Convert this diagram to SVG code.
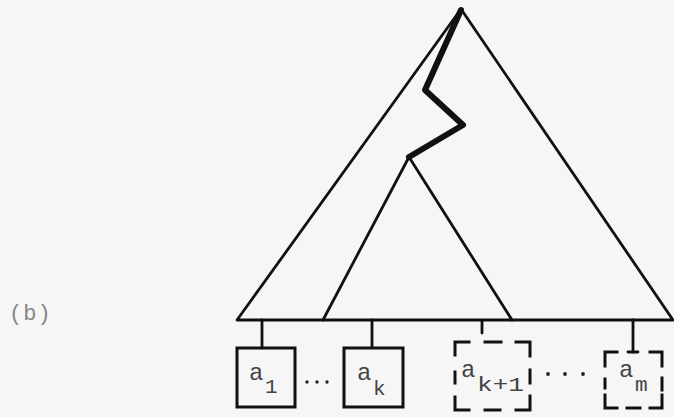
<svg xmlns="http://www.w3.org/2000/svg" width="674" height="417" viewBox="0 0 674 417">
<style>
.ln{fill:none;stroke:#111;stroke-width:2.8;stroke-linecap:round;stroke-linejoin:round}
.box{fill:none;stroke:#111;stroke-width:3;stroke-linecap:square;stroke-linejoin:miter}
.t{font-family:"Liberation Mono","DejaVu Sans Mono",monospace;font-size:24px;fill:#444}
.s{font-family:"Liberation Mono","DejaVu Sans Mono",monospace;font-size:21px;fill:#444}
</style>
<rect width="674" height="417" fill="#f6f6f6"/>
<text x="9" y="320" font-family="Liberation Mono, monospace" font-size="22" fill="#888" letter-spacing="1">(b)</text>
<g id="connectors">
  <path class="ln" d="M237,320 L461,9 L673,320 Z"/>
  <path class="ln" d="M323,320 L409,157 L512,320"/>
  <polyline points="461,10 425,90 463,125 409,157" fill="none" stroke="#111" stroke-width="6" stroke-linejoin="round" stroke-linecap="round"/>
  <line class="ln" x1="262" y1="320" x2="262" y2="348"/>
  <line class="ln" x1="372" y1="320" x2="372" y2="347"/>
  <line class="ln" x1="482" y1="321" x2="482" y2="333"/>
  <line class="ln" x1="633" y1="320" x2="633" y2="352"/>
  <line class="ln" x1="628" y1="352" x2="638" y2="352"/>
</g>
<g id="a1">
  <rect class="box" x="237" y="348" width="58" height="59"/>
  <text class="t" x="249" y="380">a</text>
  <text class="s" x="265" y="393">1</text>
</g>
<g id="dots1" fill="#222">
  <circle cx="307" cy="382" r="1.7"/>
  <circle cx="317" cy="382" r="1.7"/>
  <circle cx="327" cy="382" r="1.7"/>
</g>
<g id="ak">
  <rect class="box" x="344" y="348" width="59" height="59"/>
  <text class="t" x="357" y="380">a</text>
  <text class="s" x="373" y="395">k</text>
</g>
<g id="ak1">
  <path class="box" d="M455,355 V342 H469 M485,342 H501 M516,342 H530 V356 M530,370 V383 M455,372 V383 M455,397 V410 H469 M485,410 H500 M516,410 H530 V396"/>
  <text class="t" x="461" y="377">a</text>
  <text class="s" x="477" y="391" textLength="47" lengthAdjust="spacingAndGlyphs">k+1</text>
</g>
<g id="dots2" fill="#222">
  <circle cx="548" cy="374" r="1.9"/>
  <circle cx="565" cy="374" r="1.9"/>
  <circle cx="583" cy="374" r="1.9"/>
</g>
<g id="am">
  <path class="box" d="M605,366 V352 H617 M650,352 H662 V366 M605,379 V388 M662,378 V390 M605,395 V408 H617 M627,408 H640 M650,408 H662 V395"/>
  <text class="t" x="619" y="377">a</text>
  <text class="s" x="635" y="391">m</text>
</g>
</svg>
